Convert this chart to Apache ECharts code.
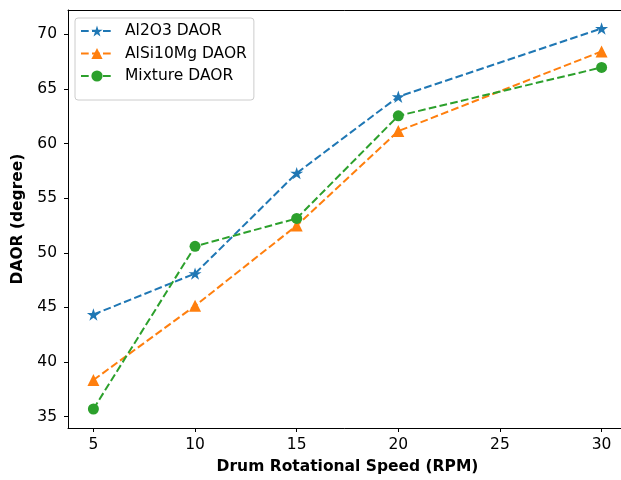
<!DOCTYPE html>
<html>
<head>
<meta charset="utf-8">
<script src="https://cdn.jsdelivr.net/npm/echarts@6/dist/echarts.min.js"></script>
<style>html,body{margin:0;padding:0;background:#fff;}#c{width:621px;height:480px;}</style>
</head>
<body>
<div id="c"></div>
<script>
const speeds = [5, 10, 15, 20, 30];
const al2o3 = [44.35, 48.1, 57.3, 64.3, 70.55];
const alsi10mg = [38.35, 45.15, 52.5, 61.15, 68.45];
const mixture = [35.7, 50.6, 53.15, 62.55, 66.98];
const xTicks = [5, 10, 15, 20, 25, 30];
const yTicks = [35, 40, 45, 50, 55, 60, 65, 70];
const seriesNames = ['Al2O3 DAOR', 'AlSi10Mg DAOR', 'Mixture DAOR'];

const starPath = 'path://M0,-10 L2.245,-3.09 L9.511,-3.09 L3.633,1.18 L5.878,8.09 L0,3.82 L-5.878,8.09 L-3.633,1.18 L-9.511,-3.09 L-2.245,-3.09 Z';
const colors = ['#1f77b4', '#ff7f0e', '#2ca02c'];
const symbols = [starPath, 'triangle', 'circle'];
const sizes = [13, 12, 11];
const datasets = [al2o3, alsi10mg, mixture];
const font = 'DejaVu Sans';

const chart = echarts.init(document.getElementById('c'), null, {renderer: 'canvas'});
chart.setOption({
  animation: false,
  backgroundColor: '#fff',
  grid: {left: 68, top: 10, width: 559, bottom: 52, show: false,
         outerBoundsMode: 'none', containLabel: false},
  legend: {
    orient: 'vertical', left: 75, top: 18,
    data: seriesNames,
    backgroundColor: 'rgba(255,255,255,0.8)', borderColor: '#cccccc', borderWidth: 1, borderRadius: 3,
    padding: [5, 7, 16, 5], itemGap: 6.5, itemWidth: 32, itemHeight: 14,
    textStyle: {fontFamily: font, fontSize: 15.5, lineHeight: 16, color: '#000', padding: [0, 0, 0, 7]}
  },
  xAxis: [{
    type: 'value', min: 3.75, max: 31.25,
    name: 'Drum Rotational Speed (RPM)', nameLocation: 'middle', nameGap: 31,
    nameTextStyle: {fontFamily: font, fontSize: 15.5, fontWeight: 'bold', color: '#000'},
    axisLine: {show: true, onZero: false, lineStyle: {color: '#000', width: 1}},
    axisTick: {show: true, length: 4, inside: false, customValues: xTicks, lineStyle: {color: '#000'}},
    axisLabel: {customValues: xTicks, fontFamily: font, fontSize: 15.5, color: '#000', margin: 9},
    splitLine: {show: false}
  }, {
    type: 'value', position: 'top', min: 3.75, max: 31.25,
    axisLine: {show: true, onZero: false, lineStyle: {color: '#000', width: 1}},
    axisTick: {show: false}, axisLabel: {show: false}, splitLine: {show: false}
  }],
  yAxis: {
    type: 'value', min: 33.96, max: 72.24,
    name: 'DAOR (degree)', nameLocation: 'middle', nameGap: 38, nameRotate: 90,
    nameTextStyle: {fontFamily: font, fontSize: 15.5, fontWeight: 'bold', color: '#000'},
    axisLine: {show: true, onZero: false, lineStyle: {color: '#000', width: 1}},
    axisTick: {show: true, length: 4, inside: false, customValues: yTicks, lineStyle: {color: '#000'}},
    axisLabel: {customValues: yTicks, fontFamily: font, fontSize: 15.5, color: '#000', margin: 11},
    splitLine: {show: false}
  },
  series: seriesNames.map((n, i) => ({
    name: n, type: 'line', xAxisIndex: 0,
    data: speeds.map((s, j) => [s, datasets[i][j]]),
    symbol: symbols[i], symbolSize: sizes[i], symbolKeepAspect: true,
    showAllSymbol: true,
    itemStyle: {color: colors[i], borderWidth: 0},
    lineStyle: {color: colors[i], width: 2, type: [7.7, 3.3]},
    emphasis: {disabled: true}
  }))
});
</script>
</body>
</html>
